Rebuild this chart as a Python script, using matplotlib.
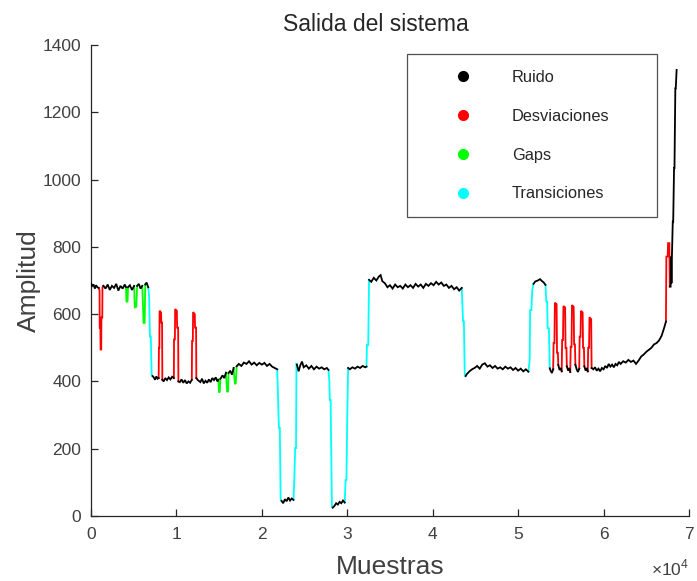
import matplotlib
matplotlib.use("Agg")
import matplotlib.pyplot as plt
from matplotlib.lines import Line2D

plt.rcParams['font.family'] = ['Liberation Sans', 'DejaVu Sans']
plt.rcParams['mathtext.fontset'] = 'custom'
plt.rcParams['mathtext.rm'] = 'Liberation Sans'

# ---- data (samples, amplitude, class of the segment ending at each point) ----
muestras = [
    0, 150, 300, 450, 600, 750, 900,
    1000, 1020, 1100, 1120, 1200, 1220, 1320, 1340, 1450,
    1700, 1950, 2200, 2450, 2700, 2950, 3200, 3450, 3700, 3950, 4100,
    4150, 4280, 4330,
    4550, 4800, 5050,
    5120, 5300, 5400,
    5600, 5800, 6000,
    6080, 6150, 6280, 6350,
    6500, 6700,
    6800, 6900, 7000, 7100, 7200,
    7350, 7500, 7650, 7800, 7920,
    7950, 8000, 8030, 8200, 8230, 8320, 8350,
    8500, 8700, 8900, 9100, 9300, 9500, 9700,
    9720, 9820, 9850, 10050, 10080, 10200, 10230,
    10400, 10600, 10800, 11000, 11200, 11400, 11600, 11800,
    11830, 11920, 11950, 12150, 12180, 12300, 12330,
    12500, 12800, 13000, 13200, 13400, 13600, 13800, 14000, 14200, 14400, 14600, 14800, 14900,
    14950, 15000, 15080, 15150,
    15400, 15600, 15800,
    15850, 15950, 16050, 16100,
    16300, 16500, 16700,
    16750, 16850, 16950, 17050,
    17300, 17600, 17900, 18200, 18500, 18800, 19100, 19400, 19700, 20000, 20300, 20600,
    20900, 21200, 21500, 21800,
    21950, 22000, 22100, 22200, 22300,
    22500, 22700, 22900, 23100, 23300, 23500, 23700,
    23800, 23900, 24000, 24050, 24100,
    24300, 24500, 24700, 24900, 25200, 25500, 25800, 26100, 26400, 26700, 27000, 27300,
    27600, 27800,
    27900, 27950, 28050, 28200, 28300,
    28500, 28700, 28900, 29100, 29300, 29500, 29700,
    29800, 29900, 30000, 30100,
    30300, 30600, 30900, 31200, 31500, 31800, 32100, 32250,
    32300, 32450, 32550,
    32800, 33100, 33400, 33700, 33900, 34100, 34400, 34700, 35000, 35300, 35600, 35900,
    36200, 36500, 36800, 37100, 37400, 37700, 38000, 38300, 38600, 38900, 39200, 39500,
    39800, 40100, 40400, 40700, 41000, 41300, 41600, 41900, 42200, 42500, 42800, 43100,
    43400,
    43550, 43650, 43750, 43850,
    44000, 44300, 44600, 44900, 45200, 45500, 45800, 46100, 46400, 46700, 47000, 47300,
    47600, 47900, 48200, 48500, 48800, 49100, 49400, 49700, 50000, 50300, 50600, 50900,
    51200,
    51350, 51400, 51550, 51650, 51800,
    52000, 52300, 52560, 52800, 53000, 53200,
    53300, 53400, 53450, 53600, 53700,
    53800, 53950, 54100,
    54150, 54250, 54300, 54500, 54550, 54650, 54700,
    54850, 55000, 55100,
    55150, 55250, 55300, 55500, 55550, 55650, 55700,
    55850, 56000, 56100,
    56150, 56250, 56300, 56500, 56550, 56650, 56700,
    56850, 57000, 57150,
    57200, 57300, 57350, 57550, 57600, 57700, 57750,
    57900, 58050, 58150,
    58200, 58300, 58350, 58550, 58600,
    58800, 59000, 59200, 59400, 59600, 59800, 60000, 60200, 60400, 60600, 60800, 61000,
    61200, 61400, 61600, 61800, 62000, 62300, 62600, 62900, 63200, 63500, 63800, 64100,
    64400, 64700, 65000, 65300, 65600, 65900, 66200, 66500, 66800, 67100, 67300,
    67350, 67500, 67550, 67700, 67750,
    67850, 67900, 67950, 68000, 68100, 68150, 68250, 68300, 68400, 68450, 68550,
]

amplitud = [
    692, 684, 688, 676, 686, 680, 678,
    670, 560, 560, 495, 495, 590, 590, 680, 684,
    676, 688, 672, 684, 678, 690, 670, 684, 676, 688, 680,
    636, 638, 680,
    686, 672, 684,
    620, 622, 684,
    690, 676, 684,
    630, 574, 574, 688,
    694, 680,
    655, 533, 533, 419, 416,
    412, 405, 415, 408, 410,
    500, 500, 610, 605, 575, 575, 405,
    400, 410, 404, 412, 406, 414, 410,
    525, 525, 615, 610, 560, 560, 400,
    398, 406, 396, 404, 394, 400, 396, 405,
    520, 520, 606, 600, 560, 560, 410,
    404, 398, 408, 394, 402, 396, 406, 398, 410, 404, 412, 400, 405,
    385, 367, 370, 408,
    418, 410, 426,
    400, 368, 372, 425,
    432, 420, 440,
    420, 392, 395, 445,
    452, 446, 456, 452, 460, 450, 456, 448, 455, 450, 455, 446,
    452, 444, 440, 436,
    300, 262, 262, 48, 45,
    38, 50, 44, 55, 46, 52, 48,
    110, 202, 202, 455, 450,
    430, 448, 459, 442, 448, 438, 446, 436, 444, 438, 442, 436,
    440, 434,
    400, 345, 345, 28, 25,
    30, 38, 34, 42, 38, 46, 40,
    107, 107, 300, 440,
    436, 442, 438, 444, 440, 446, 442, 444,
    508, 508, 702,
    696, 708, 700, 712, 716, 698, 692, 680, 686, 676, 688, 680,
    684, 676, 688, 680, 686, 678, 690, 682, 688, 678, 690, 684,
    692, 686, 696, 688, 694, 684, 688, 678, 684, 674, 680, 670,
    678,
    578, 578, 419, 416,
    422, 430, 436, 440, 446, 438, 450, 454, 444, 448, 440, 446,
    438, 442, 436, 444, 438, 442, 434, 440, 432, 438, 430, 436,
    429,
    464, 612, 612, 672, 690,
    697, 700, 704, 698, 694, 687,
    637, 637, 558, 558, 439,
    432, 425, 436,
    514, 514, 634, 630, 485, 485, 449,
    434, 440, 430,
    523, 523, 624, 620, 500, 500, 445,
    432, 440, 428,
    503, 503, 627, 622, 510, 510, 450,
    436, 428, 438,
    533, 533, 610, 605, 500, 500, 445,
    432, 440, 430,
    500, 500, 591, 585, 440,
    436, 442, 432, 438, 430, 440, 436, 446, 440, 452, 444, 450,
    442, 452, 448, 458, 452, 460, 456, 464, 458, 462, 452, 462,
    474, 480, 488, 494, 500, 510, 514, 522, 536, 560, 578,
    771, 771, 811, 811, 682,
    682, 771, 692, 771, 875, 875, 1034, 1034, 1271, 1271, 1326, 1326,
]

clase = (
    "RRRRRRR"
    "DDDDDDDDD"
    "RRRRRRRRRRR"
    "GGG"
    "RRR"
    "GGG"
    "RRR"
    "GGGG"
    "RR"
    "TTTTT"
    "RRRRR"
    "DDDDDDD"
    "RRRRRRR"
    "DDDDDDD"
    "RRRRRRRR"
    "DDDDDDD"
    "RRRRRRRRRRRRR"
    "GGGG"
    "RRR"
    "GGGG"
    "RRR"
    "GGGG"
    "RRRRRRRRRRRR"
    "RRRR"
    "TTTTT"
    "RRRRRRR"
    "TTTTT"
    "RRRRRRRRRRRR"
    "RR"
    "TTTTT"
    "RRRRRRR"
    "TTTT"
    "RRRRRRRR"
    "TTT"
    "RRRRRRRRRRRR"
    "RRRRRRRRRRRR"
    "RRRRRRRRRRRR"
    "R"
    "TTTT"
    "RRRRRRRRRRRR"
    "RRRRRRRRRRRR"
    "R"
    "TTTTT"
    "RRRRRR"
    "TTTTT"
    "RRR"
    "DDDDDDD"
    "RRR"
    "DDDDDDD"
    "RRR"
    "DDDDDDD"
    "RRR"
    "DDDDDDD"
    "RRR"
    "DDDDD"
    "RRRRRRRRRRRR"
    "RRRRRRRRRRRR"
    "RRRRRRRRRRR"
    "DDDDD"
    "RRRRRRRRRRR"
)

categorias = ["Ruido", "Desviaciones", "Gaps", "Transiciones"]
codigos = ["R", "D", "G", "T"]
colores = {"R": "#000000", "D": "#ff0000", "G": "#00ff00", "T": "#00ffff"}

x_ticks = [0, 10000, 20000, 30000, 40000, 50000, 60000, 70000]
x_ticklabels = ["0", "1", "2", "3", "4", "5", "6", "7"]
y_ticks = [0, 200, 400, 600, 800, 1000, 1200, 1400]

# ---- figure ----
fig = plt.figure(figsize=(6.97, 5.81), dpi=100)
ax = fig.add_axes([91 / 697, 65 / 581, 598 / 697, 471 / 581])

axis_col = "#262626"

# draw consecutive runs of the same class
n = len(muestras)
i = 1
while i < n:
    c = clase[i]
    j = i
    while j + 1 < n and clase[j + 1] == c:
        j += 1
    ax.plot(muestras[i - 1:j + 1], amplitud[i - 1:j + 1], color=colores[c],
            lw=1.3, solid_joinstyle="miter", zorder=3 if c == "R" else 2)
    i = j + 1

ax.set_xlim(0, 70000)
ax.set_ylim(0, 1400)
ax.set_xticks(x_ticks)
ax.set_xticklabels(x_ticklabels)
ax.set_yticks(y_ticks)

for s in ["top", "right"]:
    ax.spines[s].set_visible(False)
for s in ["left", "bottom"]:
    ax.spines[s].set_color(axis_col)
    ax.spines[s].set_linewidth(0.9)

ax.tick_params(direction="in", length=5, width=0.9, colors=axis_col,
               labelsize=12.5, labelcolor="#404040")
ax.tick_params(axis="x", pad=8)
ax.tick_params(axis="y", pad=7)

ax.set_xlabel("Muestras", fontsize=19, color="#404040", labelpad=9)
ax.set_ylabel("Amplitud", fontsize=19, color="#404040", labelpad=1)
ax.set_title("Salida del sistema", fontsize=16.5, color="#262626", x=0.4766, pad=10)

ax.text(1.0, -0.088, r"$\times10^{4}$", transform=ax.transAxes, ha="right", va="top",
        fontsize=12.5, color="#404040")

handles = [Line2D([], [], ls="none", marker="o", markersize=7,
                  markerfacecolor=colores[k], markeredgecolor=colores[k])
           for k in codigos]
leg = ax.legend(handles, categorias, loc="upper left",
                bbox_to_anchor=((407 - 91) / 598, (516 - 214) / 471,
                                (657 - 407) / 598, (214 - 54) / 471),
                mode="expand", fontsize=11.8, frameon=True, fancybox=False,
                borderpad=0.98, handlelength=4.86, handletextpad=0.56,
                labelspacing=1.45, borderaxespad=0.0)
leg.get_frame().set_edgecolor(axis_col)
leg.get_frame().set_linewidth(0.9)
for t in leg.get_texts():
    t.set_color("#262626")

fig.savefig("out.png", dpi=100)
